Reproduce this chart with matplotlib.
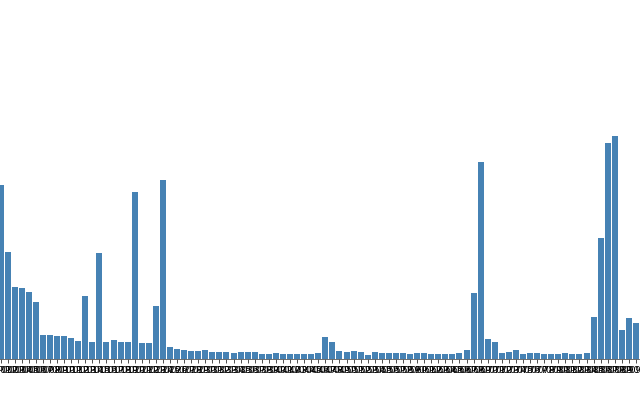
import matplotlib
matplotlib.use("Agg")
import matplotlib.pyplot as plt

# bar heights (pixel units)
values = [174.6, 107.6, 72.6, 71.0, 67.0, 57.3, 24.3, 24.3, 23.0, 23.0,
          21.6, 18.0, 63.0, 17.3, 106.3, 17.0, 19.0, 17.0, 17.0, 167.3,
          16.0, 16.0, 53.6, 179.6, 12.3, 10.6, 9.3, 8.0, 8.0, 9.3,
          7.3, 7.0, 7.0, 6.0, 7.0, 7.0, 7.0, 5.7, 5.7, 6.3,
          5.7, 5.7, 5.7, 5.7, 5.7, 6.0, 22.0, 17.0, 8.7, 7.0,
          8.0, 7.0, 4.7, 7.0, 6.0, 6.0, 6.7, 6.7, 5.7, 6.3,
          6.0, 5.3, 5.3, 5.3, 5.0, 6.0, 9.3, 66.7, 197.0, 20.7,
          17.0, 6.3, 7.3, 9.0, 5.3, 6.0, 6.3, 5.3, 5.0, 5.0,
          6.3, 5.0, 5.0, 6.3, 42.0, 121.6, 216.6, 223.6, 29.3, 41.3,
          36.3]
labels = ["P%03d" % (i + 1) for i in range(len(values))]

fig = plt.figure(figsize=(6.4, 4), dpi=100)
ax = fig.add_axes([-2.93 / 640, 40.7 / 400, 642.4 / 640, 223.6 / 400])

x = range(len(values))
ax.bar(x, values, width=0.85, color="#4682b4")

ax.set_xlim(-0.5, len(values) - 0.5)
ax.set_ylim(0, max(values))
ax.set_xticks(list(x))
ax.set_xticklabels(labels, fontsize=6, color="black")
ax.tick_params(axis="x", length=3, width=0.6, color="#333333", pad=1.5)
ax.set_yticks([])

for s in ["top", "left", "right"]:
    ax.spines[s].set_visible(False)
ax.spines["bottom"].set_color("#555555")
ax.spines["bottom"].set_linewidth(0.6)

fig.savefig("out.png", dpi=100)
